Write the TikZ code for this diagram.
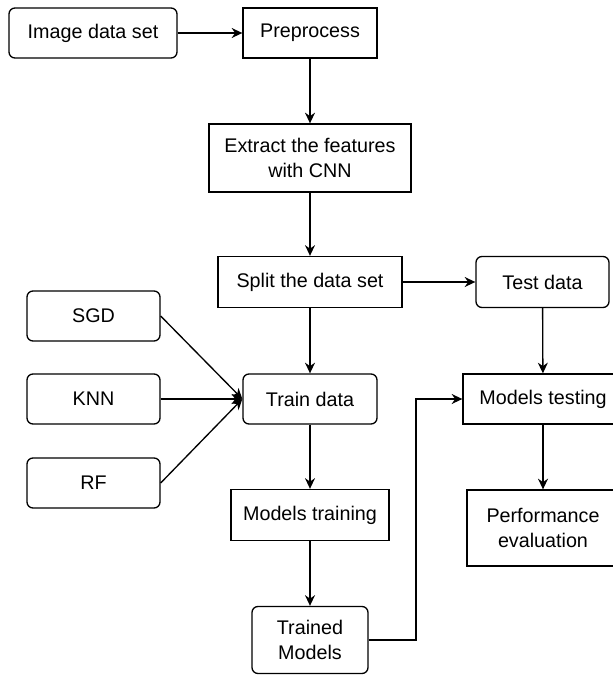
\documentclass[tikz,border=0pt]{standalone}
\usepackage{fontspec}
\setmainfont{Liberation Sans}
\usepackage{tikz}
\usetikzlibrary{arrows.meta}

\tikzset{
	box/.style={draw, rectangle, line width=1pt, align=center, inner sep=0pt,
		font=\fontsize{14.8}{19}\selectfont},
	rbox/.style={box, rounded corners=4.5pt},
	arr/.style={line width=1pt, -{Stealth[length=8pt,width=7.5pt]}}
}

\begin{document}
\begin{tikzpicture}[x=0.75pt,y=-0.75pt]

	\useasboundingbox (0,0) rectangle (613,675);
	\clip (0,0) rectangle (613,675);

	% top row and middle column
	\node[rbox, minimum width=126pt, minimum height=37.5pt] (img) at (93,33) {Image data set};
	\node[box, minimum width=100.5pt, minimum height=37.5pt] (pre) at (310,33) {Preprocess};
	\node[box, minimum width=151.5pt, minimum height=51pt] (ext) at (310,158) {Extract the features\\with CNN};
	\node[box, minimum width=138pt, minimum height=38.25pt] (split) at (310,282) {Split the data set};
	\node[rbox, minimum width=100.5pt, minimum height=37.5pt] (train) at (310,399) {Train data};
	\node[box, minimum width=118.5pt, minimum height=38.25pt] (mtrain) at (310,515) {Models training};
	\node[rbox, minimum width=87pt, minimum height=50.25pt] (trained) at (310,640) {Trained\\Models};

	% classifiers
	\node[rbox, minimum width=99.75pt, minimum height=37.5pt] (sgd) at (93.5,316) {SGD};
	\node[rbox, minimum width=99.75pt, minimum height=37.5pt] (knn) at (93.5,399) {KNN};
	\node[rbox, minimum width=99.75pt, minimum height=37.5pt] (rf) at (93.5,483) {RF};

	% right column
	\node[rbox, minimum width=99.75pt, minimum height=38.25pt] (test) at (542.5,282) {Test data};
	\node[box, minimum width=120pt, minimum height=37.5pt] (mtest) at (543,399) {Models testing};
	\node[box, minimum width=114pt, minimum height=57pt] (perf) at (543,528) {Performance\\evaluation};
	\coordinate (elbow) at (416,399);

	\draw[arr] (img) -- (pre);
	\draw[arr] (pre) -- (ext);
	\draw[arr] (ext) -- (split);
	\draw[arr] (split) -- (test);
	\draw[arr] (split) -- (train);
	\draw[arr] (test) -- (mtest);
	\draw[arr] (mtest) -- (perf);
	\draw[arr] (sgd.east) -- (train.west);
	\draw[arr] (knn.east) -- (train.west);
	\draw[arr] (rf.east) -- (train.west);
	\draw[arr] (train) -- (mtrain);
	\draw[arr] (mtrain) -- (trained);
	\draw[arr] (trained.east) -| (elbow) -- (mtest.west);

\end{tikzpicture}
\end{document}
